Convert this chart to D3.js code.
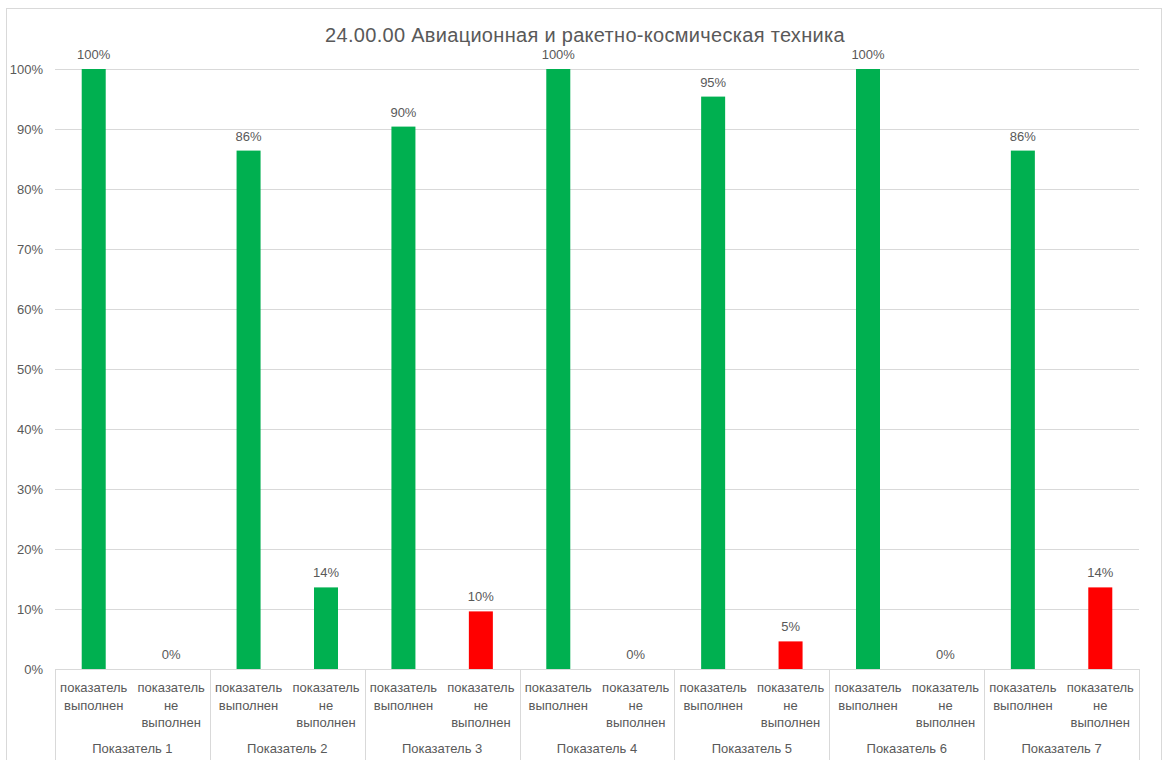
<!DOCTYPE html>
<html>
<head>
<meta charset="utf-8">
<script src="https://cdn.jsdelivr.net/npm/d3@7"></script>
<style>
  html, body { margin: 0; padding: 0; background: #fff; }
  svg text { font-family: "Liberation Sans", "DejaVu Sans", sans-serif; fill: #595959; }
</style>
</head>
<body>
<svg id="chart" width="1163" height="760"></svg>
<script>
// Indicator groups and their two sub-categories
const groups = ["Показатель 1", "Показатель 2", "Показатель 3", "Показатель 4", "Показатель 5", "Показатель 6", "Показатель 7"];
const subcats = ["показатель выполнен", "показатель не выполнен"];
// Share of "done" and "not done" per indicator, percent
const doneValues = [100, 86.4, 90.4, 100, 95.4, 100, 86.4];
const notDoneValues = [0, 13.6, 9.6, 0, 4.6, 0, 13.6];
// Bar colour of the "not done" bar per indicator
const notDoneColors = ["#00b050", "#00b050", "#ff0000", "#00b050", "#ff0000", "#00b050", "#ff0000"];
const doneColor = "#00b050";
const yTicks = [0, 10, 20, 30, 40, 50, 60, 70, 80, 90, 100];
const title = "24.00.00 Авиационная и ракетно-космическая техника";

(function () {
  const rows = [];
  groups.forEach((g, i) => {
    rows.push({ key: g + "|0", group: g, sub: subcats[0], value: doneValues[i], color: doneColor });
    rows.push({ key: g + "|1", group: g, sub: subcats[1], value: notDoneValues[i], color: notDoneColors[i] });
  });

  const svg = d3.select("#chart");
  const plotL = 55, plotR = 1139, plotT = 69, plotB = 669;

  // chart frame
  svg.append("rect").attr("x", 6.5).attr("y", 8.5).attr("width", 1155).attr("height", 760)
    .attr("fill", "#fff").attr("stroke", "#d9d9d9").attr("stroke-width", 1);

  const x = d3.scaleBand().domain(rows.map(d => d.key)).range([plotL, plotR]).paddingInner(0.69).paddingOuter(0.345);
  const xGroup = d3.scaleBand().domain(groups).range([plotL, plotR]);
  const y = d3.scaleLinear().domain([0, 100]).range([plotB, plotT]);

  // gridlines
  svg.append("g").selectAll("line").data(yTicks.filter(t => t > 0)).join("line")
    .attr("x1", plotL).attr("x2", plotR)
    .attr("y1", d => Math.round(y(d)) + 0.5).attr("y2", d => Math.round(y(d)) + 0.5)
    .attr("stroke", "#d9d9d9").attr("stroke-width", 1);

  // y axis labels
  const yAxis = d3.axisLeft(y).tickValues(yTicks).tickFormat(d => d + "%").tickSize(0).tickPadding(12);
  const ya = svg.append("g").attr("transform", `translate(${plotL},0)`).call(yAxis);
  ya.select(".domain").remove();
  ya.selectAll("text").attr("font-size", 13).style("fill", "#595959")
    .style("font-family", "'Liberation Sans', sans-serif");

  // bars
  svg.append("g").selectAll("rect").data(rows).join("rect")
    .attr("x", d => x(d.key)).attr("width", x.bandwidth())
    .attr("y", d => y(d.value)).attr("height", d => y(0) - y(d.value))
    .attr("fill", d => d.color);

  // value labels
  svg.append("g").selectAll("text").data(rows).join("text")
    .attr("x", d => x(d.key) + x.bandwidth() / 2)
    .attr("y", d => y(d.value) - 10)
    .attr("text-anchor", "middle").attr("font-size", 13)
    .text(d => Math.round(d.value) + "%");

  // category axis line
  svg.append("line").attr("x1", plotL).attr("x2", plotR)
    .attr("y1", plotB + 0.5).attr("y2", plotB + 0.5).attr("stroke", "#d9d9d9");

  // group separators
  const seps = groups.map(g => xGroup(g)).concat([plotR]);
  svg.append("g").selectAll("line").data(seps).join("line")
    .attr("x1", d => Math.round(d) + 0.5).attr("x2", d => Math.round(d) + 0.5)
    .attr("y1", plotB).attr("y2", 760).attr("stroke", "#d9d9d9");

  // sub-category labels (wrapped)
  const subWrap = { "показатель выполнен": ["показатель", "выполнен"], "показатель не выполнен": ["показатель", "не", "выполнен"] };
  const subBand = d3.scaleBand().domain(rows.map(d => d.key)).range([plotL, plotR]);
  const subG = svg.append("g").selectAll("text").data(rows).join("text")
    .attr("text-anchor", "middle").attr("font-size", 13)
    .attr("transform", d => `translate(${subBand(d.key) + subBand.bandwidth() / 2},${plotB + 23})`);
  subG.selectAll("tspan").data(d => subWrap[d.sub]).join("tspan")
    .attr("x", 0).attr("dy", (d, i) => i === 0 ? 0 : 17.5).text(d => d);

  // group labels
  svg.append("g").selectAll("text").data(groups).join("text")
    .attr("x", g => xGroup(g) + xGroup.bandwidth() / 2).attr("y", 753)
    .attr("text-anchor", "middle").attr("font-size", 13).text(g => g);

  // title
  svg.append("text").attr("x", 585).attr("y", 42).attr("text-anchor", "middle")
    .attr("font-size", 20).attr("letter-spacing", 0.3).text(title);
})();
</script>
</body>
</html>
